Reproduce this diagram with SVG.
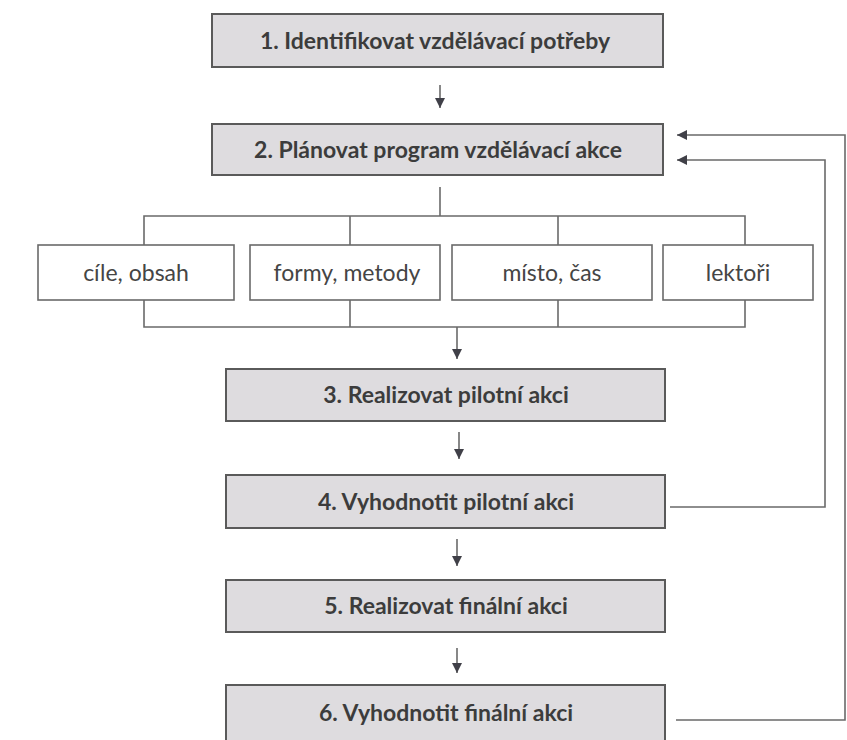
<svg xmlns="http://www.w3.org/2000/svg" width="847" height="740" viewBox="0 0 847 740">
<style>
.step rect{fill:#dedcdf;stroke:#5a5a5a;stroke-width:2}
.step text{font-family:Lato,"Open Sans","Liberation Sans",sans-serif;font-weight:bold;font-size:23px;fill:#3c3c3c;text-anchor:middle}
.sub rect{fill:#ffffff;stroke:#6a6a6a;stroke-width:1.6}
.sub text{font-family:Lato,"Open Sans","Liberation Sans",sans-serif;font-size:23px;fill:#454545;text-anchor:middle}
.conn path{fill:none;stroke:#6a6a6a;stroke-width:1.6}
</style>
<defs>
<marker id="ah" viewBox="0 0 10 10" refX="10" refY="5" markerWidth="10" markerHeight="10" markerUnits="userSpaceOnUse" orient="auto">
<path d="M0,0 L10,5 L0,10 Z" fill="#404048"/>
</marker>
</defs>
<rect width="847" height="740" fill="#ffffff"/>
<g id="connectors" class="conn">
<path d="M440,85 V108" marker-end="url(#ah)"/>
<path d="M440,187 V216"/>
<path d="M144,245 V216 H745 V245"/>
<path d="M350,216 V245"/>
<path d="M558,216 V245"/>
<path d="M144,300 V327 H745 V300"/>
<path d="M350,300 V327"/>
<path d="M558,300 V327"/>
<path d="M457,327 V359" marker-end="url(#ah)"/>
<path d="M459,432 V459" marker-end="url(#ah)"/>
<path d="M457,539 V566" marker-end="url(#ah)"/>
<path d="M457,648 V673" marker-end="url(#ah)"/>
<path d="M670,507 H825 V160 H677" marker-end="url(#ah)"/>
<path d="M676,720 H845 V135 H677" marker-end="url(#ah)"/>
</g>
<g id="n1" class="step"><rect x="212" y="14" width="451" height="53"/><text x="435" y="49">1. Identifikovat vzdělávací potřeby</text></g>
<g id="n2" class="step"><rect x="212" y="124" width="451" height="51"/><text x="438" y="158">2. Plánovat program vzdělávací akce</text></g>
<g id="s1" class="sub"><rect x="38" y="245" width="196" height="55"/><text x="136" y="281">cíle, obsah</text></g>
<g id="s2" class="sub"><rect x="250" y="245" width="190" height="55"/><text x="347" y="281">formy, metody</text></g>
<g id="s3" class="sub"><rect x="452" y="245" width="200" height="55"/><text x="552" y="281">místo, čas</text></g>
<g id="s4" class="sub"><rect x="663" y="245" width="150" height="55"/><text x="738" y="281">lektoři</text></g>
<g id="n3" class="step"><rect x="226" y="369" width="439" height="52"/><text x="446" y="403">3. Realizovat pilotní akci</text></g>
<g id="n4" class="step"><rect x="226" y="475" width="439" height="53"/><text x="446" y="510">4. Vyhodnotit pilotní akci</text></g>
<g id="n5" class="step"><rect x="226" y="580" width="439" height="52"/><text x="446" y="614">5. Realizovat finální akci</text></g>
<g id="n6" class="step"><rect x="226" y="685" width="439" height="60"/><text x="446" y="721">6. Vyhodnotit finální akci</text></g>
</svg>
